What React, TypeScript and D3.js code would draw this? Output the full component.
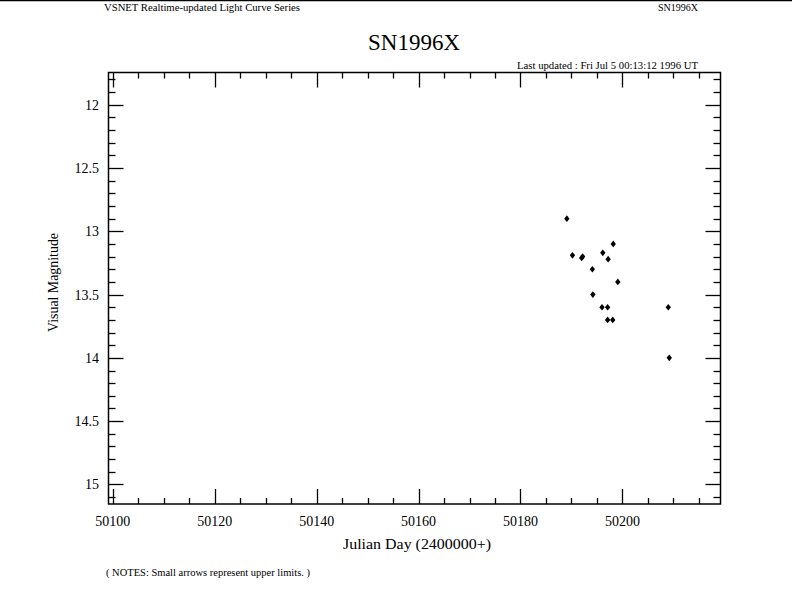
import { useEffect, useRef } from "react";
import * as d3 from "d3";

// Julian day (2400000+) and visual magnitude of each observation
const julianDays = [
  50189.1, 50190.2, 50192.0, 50192.2, 50194.1, 50194.2, 50196.0, 50196.15,
  50197.1, 50197.1, 50197.2, 50198.1, 50198.2, 50199.1, 50209.0, 50209.2,
];
const magnitudes = [
  12.9, 13.19, 13.21, 13.2, 13.3, 13.5, 13.6, 13.17,
  13.6, 13.7, 13.22, 13.7, 13.1, 13.4, 13.6, 14.0,
];
const xTicks = [50100, 50120, 50140, 50160, 50180, 50200];
const yTicks = [12, 12.5, 13, 13.5, 14, 14.5, 15];

const W = 792;
const H = 612;

// small squat diamond, like the plotter's dot
const dotMark = {
  draw(ctx: any, size: number) {
    const h = Math.sqrt(size) * 0.75;
    const w = h * 0.8;
    ctx.moveTo(0, -h);
    ctx.lineTo(w, 0);
    ctx.lineTo(0, h);
    ctx.lineTo(-w, 0);
    ctx.closePath();
  },
};

export default function App() {
  const ref = useRef<SVGSVGElement>(null);

  useEffect(() => {
    const svg = d3.select(ref.current);
    svg.selectAll("*").remove();
    const font = "'Liberation Serif', 'Times New Roman', serif";

    const left = 108.5, right = 720.5, top = 72.5, bottom = 504;
    const x = d3.scaleLinear().domain([50099.15, 50219.25]).range([left, right]);
    const y = d3.scaleLinear().domain([11.745, 15.155]).range([top, bottom]);

    // top rule and header texts
    svg.append("line").attr("x1", 0).attr("x2", W).attr("y1", 0.5).attr("y2", 0.5)
      .attr("stroke", "#000").attr("stroke-width", 1.5);
    svg.append("text").attr("x", 104).attr("y", 11).attr("font-family", font)
      .attr("font-size", 10).attr("textLength", 196).attr("lengthAdjust", "spacingAndGlyphs")
      .text("VSNET Realtime-updated Light Curve Series");
    svg.append("text").attr("x", 658).attr("y", 11)
      .attr("font-family", font).attr("font-size", 10).attr("textLength", 40)
      .attr("lengthAdjust", "spacingAndGlyphs").text("SN1996X");
    svg.append("text").attr("x", 414).attr("y", 50).attr("text-anchor", "middle")
      .attr("font-family", font).attr("font-size", 23).text("SN1996X");
    svg.append("text").attr("x", 517).attr("y", 69)
      .attr("font-family", font).attr("font-size", 10).attr("textLength", 181)
      .attr("lengthAdjust", "spacingAndGlyphs")
      .text("Last updated :  Fri Jul 5 00:13:12 1996 UT");

    // frame
    svg.append("rect").attr("x", left).attr("y", top)
      .attr("width", right - left).attr("height", bottom - top)
      .attr("fill", "none").attr("stroke", "#000").attr("stroke-width", 1.5);

    const g = svg.append("g").attr("stroke", "#000").attr("stroke-width", 1.3);

    // x ticks: minor every 5 days, major every 20
    d3.range(50100, 50220, 5).forEach((d) => {
      const len = d % 20 === 0 ? 15 : 6;
      const px = Math.round(x(d)) + 0.5;
      g.append("line").attr("x1", px).attr("x2", px).attr("y1", bottom).attr("y2", bottom - len);
      g.append("line").attr("x1", px).attr("x2", px).attr("y1", top).attr("y2", top + len);
    });

    // y ticks: minor every 0.1, major every 0.5
    d3.range(118, 152).map((v) => v / 10).forEach((m) => {
      const major = Math.abs(m * 2 - Math.round(m * 2)) < 1e-6;
      const len = major ? 15 : 7;
      const py = Math.round(y(m)) + 0.5;
      g.append("line").attr("x1", left).attr("x2", left + len).attr("y1", py).attr("y2", py);
      g.append("line").attr("x1", right).attr("x2", right - len).attr("y1", py).attr("y2", py);
    });

    svg.append("g").selectAll("text").data(xTicks).enter().append("text")
      .attr("x", (d) => x(d)).attr("y", 526).attr("text-anchor", "middle")
      .attr("font-family", font).attr("font-size", 14).text((d) => d);

    svg.append("g").selectAll("text").data(yTicks).enter().append("text")
      .attr("x", 99).attr("y", (d) => y(d) + 5).attr("text-anchor", "end")
      .attr("font-family", font).attr("font-size", 14).text((d) => d);

    // axis labels
    svg.append("text").attr("x", 343).attr("y", 549)
      .attr("font-family", font).attr("font-size", 14).attr("textLength", 148)
      .attr("lengthAdjust", "spacingAndGlyphs").text("Julian Day (2400000+)");
    svg.append("text").attr("transform", "translate(58,332) rotate(-90)")
      .attr("font-family", font).attr("font-size", 14).attr("textLength", 99)
      .attr("lengthAdjust", "spacingAndGlyphs").text("Visual Magnitude");

    svg.append("text").attr("x", 106).attr("y", 576).attr("font-family", font)
      .attr("font-size", 10).attr("textLength", 204).attr("lengthAdjust", "spacingAndGlyphs")
      .text("( NOTES: Small arrows represent upper limits. )");

    // observations
    const sym = d3.symbol().type(dotMark).size(20);
    svg.append("g").selectAll("path").data(julianDays).enter().append("path")
      .attr("d", sym)
      .attr("transform", (d, i) => `translate(${x(d)},${y(magnitudes[i])})`)
      .attr("fill", "#000");
  }, []);

  return (
    <svg ref={ref} width={W} height={H}
      style={{ position: "absolute", left: 0, top: 0, background: "#fff" }} />
  );
}
